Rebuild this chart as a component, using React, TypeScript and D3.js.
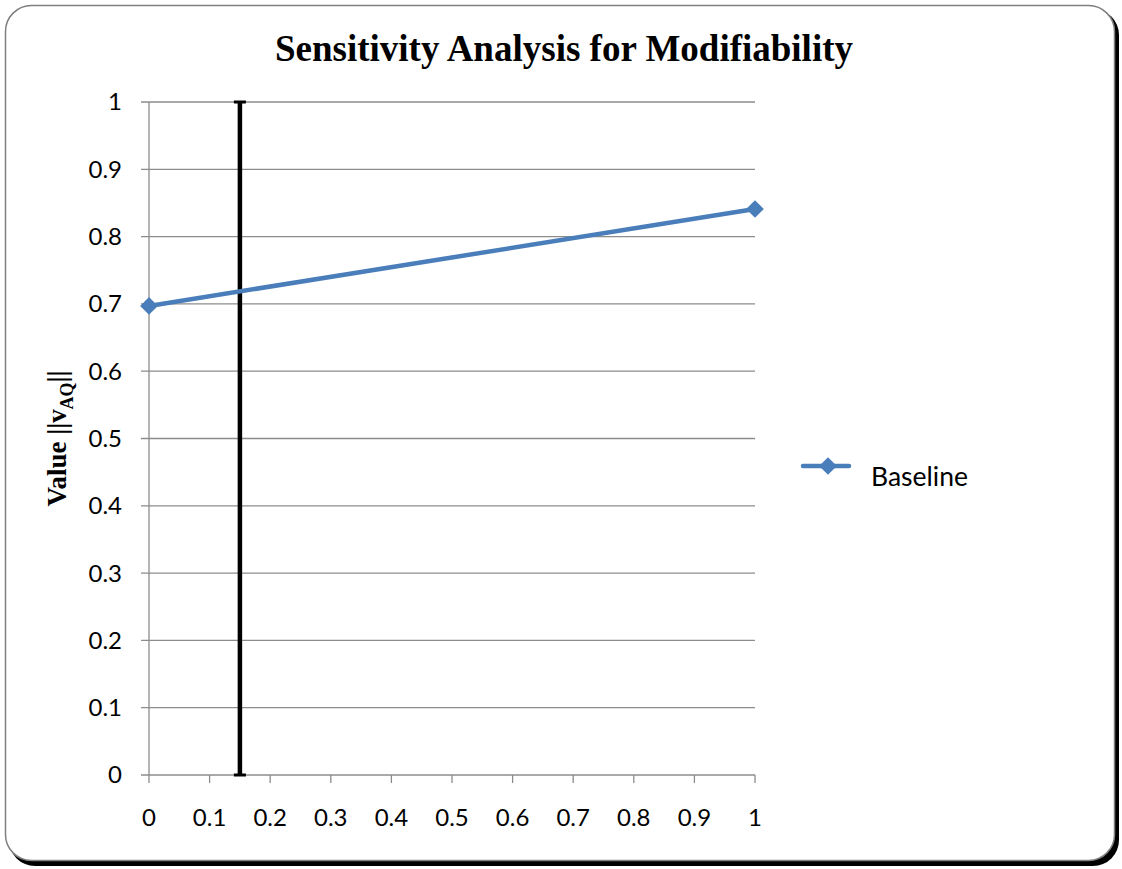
import React, { useEffect, useRef } from 'react'
import * as d3 from 'd3'

const xTicks = [0, 0.1, 0.2, 0.3, 0.4, 0.5, 0.6, 0.7, 0.8, 0.9, 1]
const yTicks = [0, 0.1, 0.2, 0.3, 0.4, 0.5, 0.6, 0.7, 0.8, 0.9, 1]
const baselineX = [0, 1]
const baselineY = [0.697, 0.841]
const markerX = 0.15
const seriesName = 'Baseline'

const W = 1122
const H = 869
const margin = { top: 102, right: 367, bottom: 94, left: 149 }

const App: React.FC = () => {
  const svgRef = useRef<SVGSVGElement | null>(null)

  useEffect(() => {
    if (!svgRef.current) return
    const svg = d3.select(svgRef.current)
    svg.selectAll('*').remove()

    const x = d3.scaleLinear().domain([0, 1]).range([margin.left, W - margin.right])
    const y = d3.scaleLinear().domain([0, 1]).range([H - margin.bottom, margin.top])

    // frame with shadow
    svg.append('rect')
      .attr('x', 9).attr('y', 9).attr('width', W - 12).attr('height', H - 12)
      .attr('rx', 26).attr('fill', '#000')
    svg.append('rect')
      .attr('x', 5.5).attr('y', 5.5).attr('width', W - 13).attr('height', H - 14)
      .attr('rx', 26).attr('fill', '#fff').attr('stroke', '#7f7f7f').attr('stroke-width', 1.5)

    svg.append('text')
      .attr('x', 564).attr('y', 61)
      .attr('text-anchor', 'middle')
      .attr('font-family', '"Liberation Serif", serif')
      .attr('font-weight', 'bold').attr('font-size', 37)
      .text('Sensitivity Analysis for Modifiability')

    // gridlines
    svg.append('g').selectAll('line').data(yTicks).join('line')
      .attr('x1', x(0) - 8).attr('x2', x(1))
      .attr('y1', (d) => y(d)).attr('y2', (d) => y(d))
      .attr('stroke', '#8c8c8c').attr('stroke-width', 1.3)
    // y axis
    svg.append('line')
      .attr('x1', x(0)).attr('x2', x(0)).attr('y1', y(1)).attr('y2', y(0))
      .attr('stroke', '#8c8c8c').attr('stroke-width', 1.3)
    // x ticks
    svg.append('g').selectAll('line').data(xTicks).join('line')
      .attr('x1', (d) => x(d)).attr('x2', (d) => x(d))
      .attr('y1', y(0)).attr('y2', y(0) + 8)
      .attr('stroke', '#8c8c8c').attr('stroke-width', 1.3)

    svg.append('g').selectAll('text').data(yTicks).join('text')
      .attr('x', x(0) - 27).attr('y', (d) => y(d)).attr('dy', '0.35em')
      .attr('text-anchor', 'end')
      .attr('font-family', 'Lato, "Open Sans", sans-serif').attr('font-size', 24)
      .text((d) => d.toString())
    svg.append('g').selectAll('text').data(xTicks).join('text')
      .attr('x', (d) => x(d)).attr('y', y(0) + 43).attr('dy', '0.35em')
      .attr('text-anchor', 'middle')
      .attr('font-family', 'Lato, "Open Sans", sans-serif').attr('font-size', 24)
      .text((d) => d.toString())

    // y label
    const yl = svg.append('text')
      .attr('transform', `translate(66,${(y(0) + y(1)) / 2}) rotate(-90)`)
      .attr('text-anchor', 'middle')
      .attr('font-family', '"Liberation Serif", serif')
      .attr('font-weight', 'bold').attr('font-size', 27)
    yl.append('tspan').text('Value ||v')
    yl.append('tspan').attr('font-size', 18).attr('dy', 7).text('AQ')
    yl.append('tspan').attr('dy', -7).text('||')

    // vertical marker with caps
    const mx = x(markerX)
    svg.append('line')
      .attr('x1', mx).attr('x2', mx).attr('y1', y(1)).attr('y2', y(0))
      .attr('stroke', '#000').attr('stroke-width', 4.5)
    ;[1, 0].forEach((v) => {
      svg.append('line')
        .attr('x1', mx - 6).attr('x2', mx + 6).attr('y1', y(v)).attr('y2', y(v))
        .attr('stroke', '#000').attr('stroke-width', 3)
    })

    const pts = baselineX.map((d, i) => [x(d), y(baselineY[i])] as [number, number])
    svg.append('path')
      .attr('d', d3.line()(pts))
      .attr('fill', 'none').attr('stroke', '#4a7ebb').attr('stroke-width', 4.5)
      .attr('stroke-linecap', 'round')
    const diamond = d3.symbol().type(d3.symbolDiamond2).size(200)
    svg.append('g').selectAll('path').data(pts).join('path')
      .attr('transform', (d) => `translate(${d[0]},${d[1]})`)
      .attr('d', diamond()!)
      .attr('fill', '#4a7ebb')

    // legend
    const ly = 466
    svg.append('line')
      .attr('x1', 803).attr('x2', 849).attr('y1', ly).attr('y2', ly)
      .attr('stroke', '#4a7ebb').attr('stroke-width', 4.5).attr('stroke-linecap', 'round')
    svg.append('path')
      .attr('transform', `translate(828,${ly})`)
      .attr('d', diamond()!)
      .attr('fill', '#4a7ebb')
    svg.append('text')
      .attr('x', 871).attr('y', 486)
      .attr('font-family', 'Lato, "Open Sans", sans-serif').attr('font-size', 26.5)
      .text(seriesName)
  }, [])

  return (
    <svg ref={svgRef} width={W} height={H}
      style={{ position: 'absolute', left: 0, top: 0 }}></svg>
  )
}

export default App
